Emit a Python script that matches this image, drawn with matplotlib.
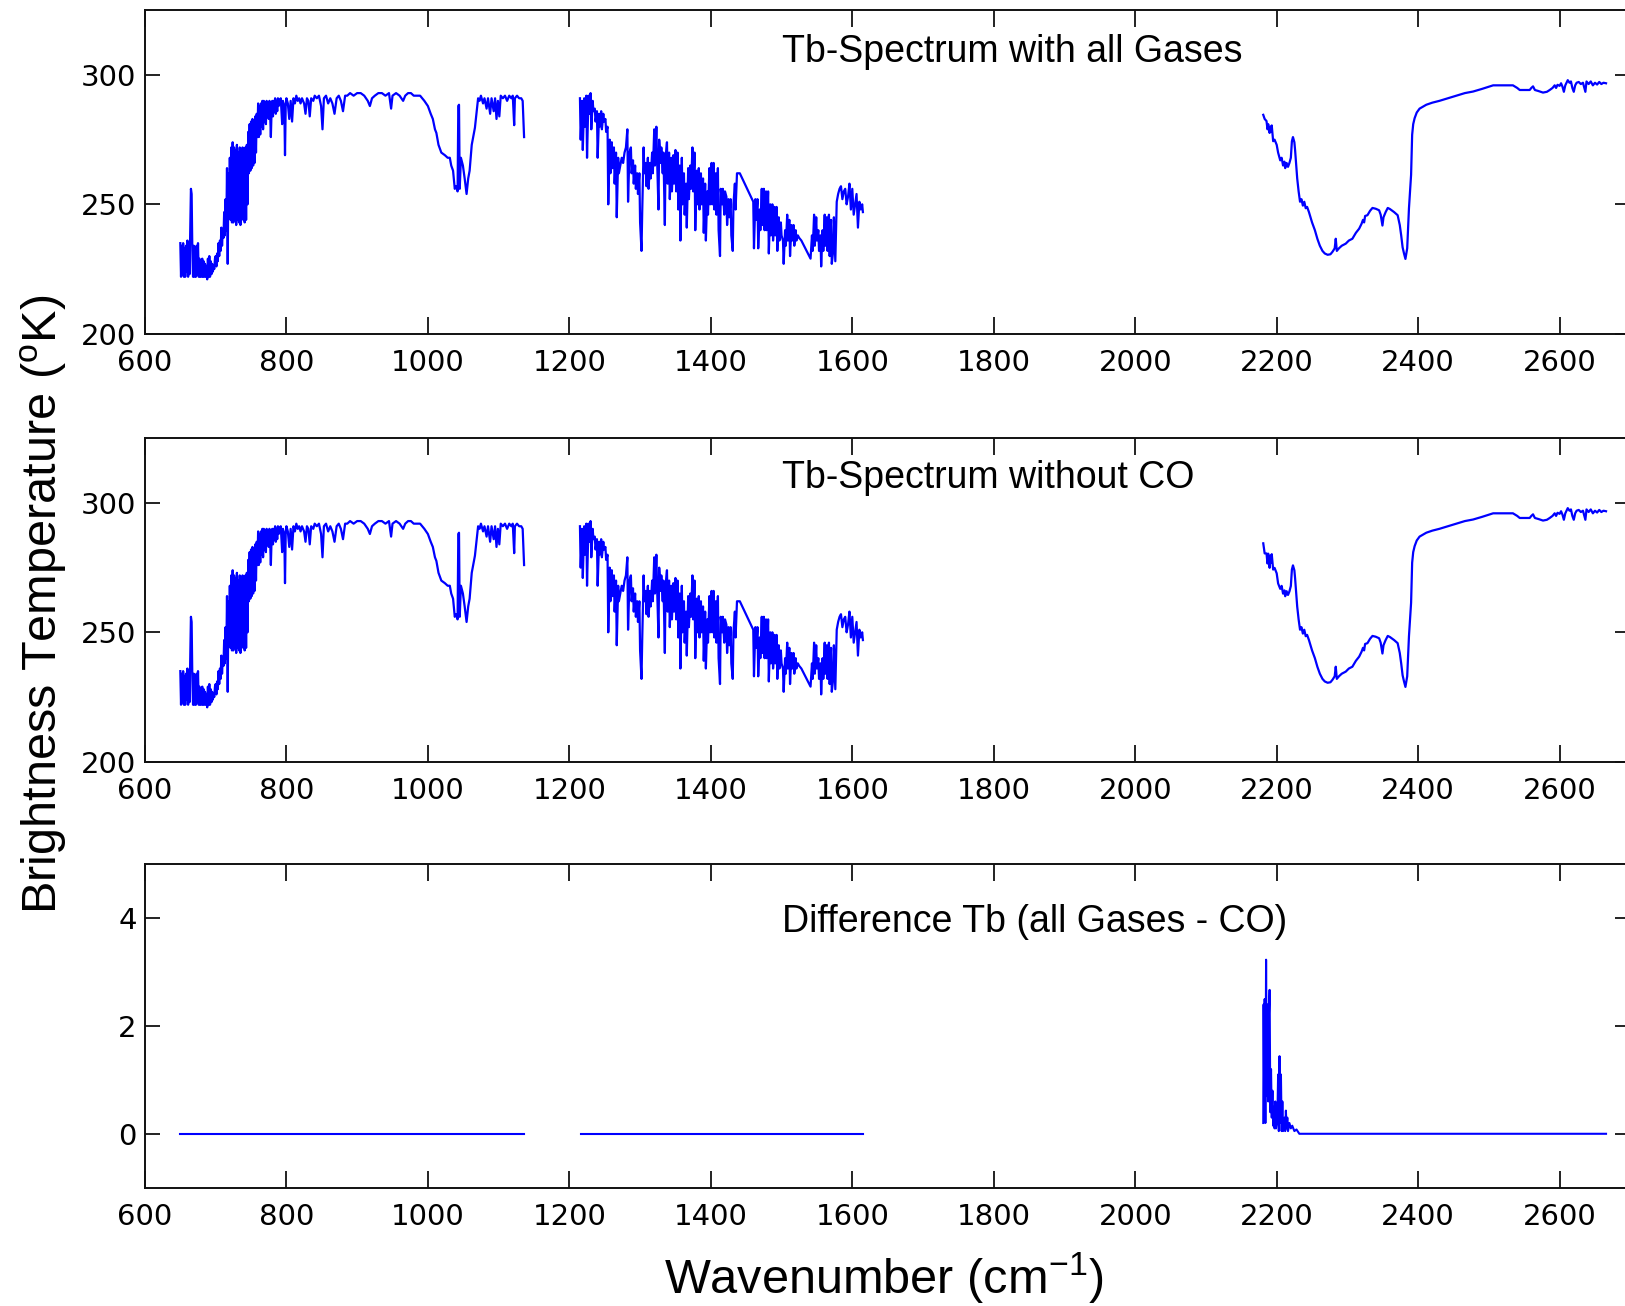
import numpy as np
import matplotlib
matplotlib.use("Agg")
from matplotlib import pyplot as plt

plt.rcParams['font.family'] = 'DejaVu Sans'
plt.rcParams['mathtext.default'] = 'regular'

# Tb spectrum with all gases, three spectral windows: (wavenumber, Tb)
window_1 = [
    (650, 235), (651, 222), (652, 234), (653, 223), (654, 235), (655, 222), (656, 233),
    (657, 222), (658, 234), (659, 224), (660, 236), (661, 222), (662, 234), (663, 223),
    (664, 240), (665, 256), (666, 254), (667, 232), (668, 222), (669, 234), (670, 222),
    (671, 233), (672, 222), (673, 234), (674, 223), (675, 235), (676, 222), (677, 229),
    (678, 222), (679, 228), (680, 222), (681, 229), (682, 222), (683, 228), (684, 222),
    (685, 227), (686, 222), (687, 226), (688, 221), (689, 229), (690, 222), (691, 230),
    (692, 222), (693, 228), (694, 223), (695, 227), (696, 224), (697, 226), (698, 225),
    (699, 229), (700, 230), (701, 226), (702, 231), (703, 228), (704, 235), (705, 230),
    (706, 236), (707, 232), (708, 241), (709, 234), (710, 240), (711, 237), (712, 247),
    (713, 238), (714, 252), (715, 240), (716, 264), (717, 227), (718, 262), (719, 246),
    (720, 268), (721, 244), (722, 272), (723, 243), (724, 274), (725, 243), (726, 272),
    (727, 244), (728, 271), (729, 242), (730, 273), (731, 244), (732, 270), (733, 243),
    (734, 272), (735, 242), (736, 271), (737, 245), (738, 272), (739, 244), (740, 270),
    (741, 243), (742, 272), (743, 244), (744, 273), (745, 250), (746, 278), (747, 262),
    (748, 281), (749, 263), (750, 282), (751, 264), (752, 283), (753, 265), (754, 282),
    (755, 266), (756, 284), (757, 270), (758, 285), (759, 276), (760, 289), (761, 276),
    (762, 288), (763, 277), (764, 289), (765, 280), (766, 290), (767, 279), (768, 290),
    (769, 282), (770, 289), (771, 281), (772, 290), (773, 284), (774, 289), (775, 283),
    (776, 290), (777, 285), (778, 276), (779, 286), (780, 290), (781, 284), (782, 290),
    (783, 286), (784, 291), (785, 285), (786, 290), (787, 286), (788, 291), (789, 288),
    (790, 290), (792, 291), (794, 281), (795, 290), (797, 288), (798, 269), (799, 288),
    (800, 291), (802, 289), (804, 283), (806, 290), (808, 282), (810, 291), (812, 289),
    (814, 292), (816, 290), (818, 291), (820, 289), (822, 291),
    (825, 289), (827, 285), (829, 291), (831, 290), (833, 284), (835, 291), (838, 290),
    (840, 292), (843, 291), (846, 292), (849, 288), (851, 279), (853, 291), (856, 292),
    (859, 289), (862, 291), (865, 289), (868, 285), (871, 291), (874, 292), (877, 290),
    (880, 286), (883, 292), (886, 292), (890, 293), (895, 292), (900, 293), (905, 293),
    (910, 292), (915, 290), (918, 288), (921, 291), (925, 292), (930, 293), (935, 293),
    (940, 292), (945, 293), (948, 287), (950, 292), (955, 293), (960, 292), (965, 290),
    (968, 292), (972, 293), (976, 293), (980, 292), (985, 292), (989, 292), (995, 290),
    (1000, 288), (1004, 285), (1007, 283), (1010, 279), (1012, 277.6), (1015, 273),
    (1019, 270), (1024, 269), (1028, 268), (1031, 268), (1033, 265), (1035.6, 263),
    (1038, 256), (1040, 257), (1042, 255), (1043, 288), (1044, 288.5), (1045, 256),
    (1046.7, 268), (1049.5, 265), (1052, 260), (1054.7, 254), (1057, 260), (1059, 263),
    (1062, 273), (1064, 276), (1066.5, 279.6), (1069, 286), (1071, 291), (1073, 290),
    (1075, 292), (1078, 289), (1080, 291), (1083, 287), (1085, 291), (1088, 285),
    (1090, 291), (1093, 286), (1095, 291), (1097, 283), (1099, 290), (1101, 284),
    (1103, 292), (1106, 291), (1109, 292), (1112, 290), (1115, 292), (1118, 291),
    (1120, 292), (1122, 280.6), (1123, 291), (1126, 292), (1129, 291), (1132, 291),
    (1134, 290), (1136, 276),
]

window_2 = [
    (1215, 291), (1216, 275), (1218, 290), (1219, 271), (1221, 291), (1222, 280), (1224, 292),
    (1225, 268), (1227, 292), (1228, 285), (1230, 293), (1231, 279), (1233, 290), (1234, 286),
    (1236, 287), (1237, 282), (1239, 286), (1240, 268), (1242, 285), (1243, 280), (1245, 286),
    (1246, 279), (1248, 285), (1249, 282), (1251, 283), (1252, 278), (1254, 280), (1255, 250),
    (1257, 275), (1258, 262), (1260, 274), (1261, 264), (1263, 272), (1264, 258), (1266, 270),
    (1267, 245), (1269, 268), (1270, 262), (1272, 265), (1274, 268), (1276, 266), (1278, 270),
    (1280, 272), (1282, 279), (1283, 251), (1285, 270), (1287, 272), (1288, 262), (1290, 267),
    (1291, 258), (1293, 265), (1294, 256), (1296, 262), (1297, 254), (1299, 262), (1300, 243),
    (1302, 232), (1303, 247), (1305, 272), (1306, 262), (1308, 266), (1309, 257), (1311, 268),
    (1312, 256), (1314, 266), (1315, 260), (1317, 270), (1318, 262), (1320, 279), (1321, 265),
    (1323, 280), (1324, 268), (1326, 248), (1327, 275), (1329, 266), (1330, 272), (1332, 262),
    (1333, 270), (1335, 242), (1336, 268), (1338, 274), (1339, 258), (1341, 270), (1342, 252),
    (1344, 268), (1345, 255), (1347, 269), (1348, 258), (1350, 271), (1351, 255), (1353, 270),
    (1354, 248), (1356, 265), (1357, 236), (1359, 268), (1360, 250), (1362, 262), (1363, 246),
    (1365, 258), (1366, 241), (1368, 264), (1369, 252), (1371, 265), (1372, 256), (1374, 272),
    (1375, 255), (1377, 270), (1378, 240), (1380, 263), (1381, 250), (1383, 264), (1384, 248),
    (1386, 262), (1387, 250), (1389, 260), (1390, 239), (1392, 258), (1393, 236), (1395, 255),
    (1396, 246), (1398, 264), (1399, 250), (1401, 266), (1402, 250), (1404, 266), (1405, 248),
    (1407, 262), (1408, 246), (1410, 264), (1411, 240), (1413, 230), (1414, 256), (1416, 250),
    (1417, 256), (1419, 246), (1420, 255), (1422, 253), (1423, 242), (1425, 252), (1426, 245),
    (1428, 252), (1429, 238), (1431, 232), (1432, 250), (1434, 258), (1435, 248), (1437, 262),
    (1439, 262), (1441, 262), (1460, 251), (1461, 233), (1463, 252), (1464, 244), (1466, 252),
    (1467, 233), (1469, 248), (1470, 240), (1472, 256), (1473, 242), (1475, 256), (1476, 240),
    (1478, 255), (1479, 240), (1481, 255), (1482, 231), (1484, 250), (1485, 238), (1487, 250),
    (1488, 236), (1490, 249), (1491, 238), (1493, 249), (1494, 232), (1496, 245), (1497, 236),
    (1499, 243), (1500, 238), (1502, 236), (1503, 227), (1505, 240), (1506, 234), (1508, 246),
    (1509, 236), (1511, 244), (1512, 230), (1514, 242), (1515, 236), (1517, 242), (1518, 234),
    (1520, 240), (1521, 236), (1523, 238), (1525, 237), (1528, 236), (1541, 229), (1543, 238),
    (1544, 232), (1546, 246), (1547, 234), (1549, 245), (1550, 236), (1552, 240), (1553, 232),
    (1555, 238), (1556, 226), (1558, 240), (1559, 232), (1561, 246), (1562, 234), (1564, 245),
    (1565, 232), (1567, 246), (1568, 230), (1570, 244), (1571, 227), (1573, 232), (1574, 245),
    (1576, 228), (1578, 251), (1580, 254), (1582, 256), (1584, 257), (1586, 252), (1588, 255),
    (1590, 256), (1592, 250), (1594, 253), (1596, 258), (1598, 248), (1600, 256), (1602, 246),
    (1604, 250), (1606, 254), (1608, 241), (1610, 251), (1612, 248), (1614, 250), (1615, 247),
]

window_3 = [
    (2181, 284.6), (2183, 283), (2185.6, 282.2), (2187, 279), (2188, 281), (2190, 277.6),
    (2191, 280), (2192, 278), (2193, 280.5), (2195, 274.4), (2197, 275), (2200, 273),
    (2202, 270), (2205, 267), (2207, 268), (2209, 265), (2211, 266.5), (2212, 264),
    (2214, 266), (2216, 264.5), (2218, 266), (2220, 268), (2221.5, 274.4), (2223, 276),
    (2225, 274), (2226, 271), (2229, 260), (2231, 255), (2233, 251), (2235, 252),
    (2237, 249.5), (2239, 251), (2241, 248.5), (2243, 249), (2245.6, 247), (2250, 243),
    (2254, 240), (2257.6, 236.6), (2261, 234), (2264.7, 232), (2268, 231), (2272, 230.5),
    (2276, 230.7), (2279, 231.7), (2282, 233), (2283.5, 236.7), (2285, 232), (2288, 233),
    (2292, 234), (2297.6, 234.8), (2302, 236), (2307, 236.7), (2312, 239), (2316.6, 240.6),
    (2320, 242.5), (2322, 244), (2323.6, 243), (2325, 245.5), (2328.3, 245.8), (2332, 247.5),
    (2335.4, 248.6), (2340, 248.3), (2344.8, 247.7), (2347, 246), (2349.5, 241.8), (2351, 245),
    (2354, 247), (2357, 248.6), (2360, 248.2), (2366, 247), (2371, 245.8), (2374, 242),
    (2376, 238), (2378, 233.4), (2380, 231), (2382, 228.9), (2384.5, 233), (2387, 248.5),
    (2390, 261.4), (2391.5, 276.9), (2393, 281), (2395, 283.3), (2398, 285.5), (2402, 287),
    (2411.5, 288.5), (2420, 289.3), (2430, 290), (2442, 291), (2454, 292), (2466, 293),
    (2477.6, 293.6), (2490, 294.6), (2506, 296), (2520, 296), (2534, 296), (2540, 295),
    (2543.6, 294.2), (2557.7, 294.2), (2560, 295), (2562.4, 295.6), (2565, 294.2), (2570, 293.8),
    (2576.5, 293.2), (2582, 293.5), (2586, 294.2), (2590, 295), (2593, 296), (2595, 295),
    (2597, 296.2), (2600, 295.8), (2602, 296.8), (2604, 295.5), (2606, 293.5), (2608, 296),
    (2611.5, 298), (2614, 297), (2616, 297.5), (2618, 295), (2620, 293.5), (2622, 296),
    (2624, 297), (2627, 297.3), (2630, 296.5), (2633, 297), (2636.4, 293.5), (2638, 297.5),
    (2641, 296.5), (2644, 297.5), (2647, 296), (2650, 297), (2653, 296.3), (2656, 297.3),
    (2659, 296.5), (2662, 297), (2665.6, 296.8),
]

# difference Tb (all gases - without CO); zero in the first two windows
diff_window_1 = [(649, 0.0), (1136, 0.0)]
diff_window_2 = [(1217, 0.0), (1615, 0.0)]
diff_window_3 = [
    (2181, 0.2), (2181.5, 2.4), (2182.5, 0.3), (2183, 2.5), (2184, 0.2), (2185, 3.23),
    (2186, 0.7), (2187, 2.4), (2188, 0.6), (2189, 2.2), (2190, 2.67), (2191, 0.4),
    (2192, 1.2), (2193, 0.3), (2194, 0.8), (2195, 0.15), (2196, 0.5), (2197, 0.1),
    (2198, 0.6), (2199, 0.1), (2201, 0.3), (2202, 1.1), (2203, 0.05), (2204, 1.44),
    (2205, 0.2), (2206, 1.1), (2207, 0.05), (2208, 0.6), (2209, 0.05), (2211, 0.3),
    (2212, 0.05), (2213, 0.43), (2214, 0.1), (2215, 0.3), (2216, 0.05), (2218, 0.2),
    (2220, 0.1), (2222, 0.15), (2225, 0.05), (2228, 0.08), (2232, 0.0), (2665.6, 0.0),
]

titles = ['Tb-Spectrum with all Gases', 'Tb-Spectrum without CO',
          'Difference Tb (all Gases - CO)']
x_ticks = [600, 800, 1000, 1200, 1400, 1600, 1800, 2000, 2200, 2400, 2600]
tb_ticks = [200, 250, 300]
diff_ticks = [0, 2, 4]


def split(points):
    x, y = zip(*points)
    return np.array(x), np.array(y)


def style_axes(ax, yticks):
    ax.set_xlim(600, 2700)
    ax.set_xticks(x_ticks)
    ax.set_yticks(yticks)
    ax.tick_params(axis='both', direction='in', top=True, right=True,
                   labelsize=21, width=1.3, color='#111111')
    ax.tick_params(axis='x', length=12, pad=11)
    ax.tick_params(axis='y', length=10.5, pad=6)
    for s in ax.spines.values():
        s.set_linewidth(1.4)
        s.set_color('#111111')


fig = plt.figure(figsize=(16.25, 13.06), dpi=100)
left, width, height = 0.0892, 0.9141, 0.2476
ax_all = fig.add_axes([left, 0.7445, width, height])
ax_noco = fig.add_axes([left, 0.4168, width, height])
ax_diff = fig.add_axes([left, 0.0906, width, height])

xd3, yd3 = split(diff_window_3)
for w in [window_1, window_2, window_3]:
    x, y = split(w)
    ax_all.plot(x, y, color='#0000ff', lw=1.6)
    # without CO = all gases - difference
    ax_noco.plot(x, y - np.interp(x, xd3, yd3, left=0, right=0), color='#0000ff', lw=1.6)

for w in [diff_window_1, diff_window_2, diff_window_3]:
    x, y = split(w)
    ax_diff.plot(x, y, color='#0000ff', lw=1.5)

for ax in [ax_all, ax_noco]:
    ax.set_ylim(200, 325)
    style_axes(ax, tb_ticks)
ax_diff.set_ylim(-1, 5)
style_axes(ax_diff, diff_ticks)

title_y = [309, 309.5, 3.93]
for ax, t, ty in zip([ax_all, ax_noco, ax_diff], titles, title_y):
    ax.text(1501, ty, t, ha='left', va='center', fontsize=27,
            family='Liberation Sans')

fig.text(884 / 1625, 1 - 1278 / 1306, 'Wavenumber (cm$^{-1}$)', ha='center',
         va='center', fontsize=35, family='Liberation Sans')
fig.text(43.5 / 1625, 1 - 604 / 1306, 'Brightness Temperature ($^{o}$K)',
         ha='center', va='center', rotation=90, fontsize=35, family='Liberation Sans')

fig.savefig('out.png', dpi=100)
